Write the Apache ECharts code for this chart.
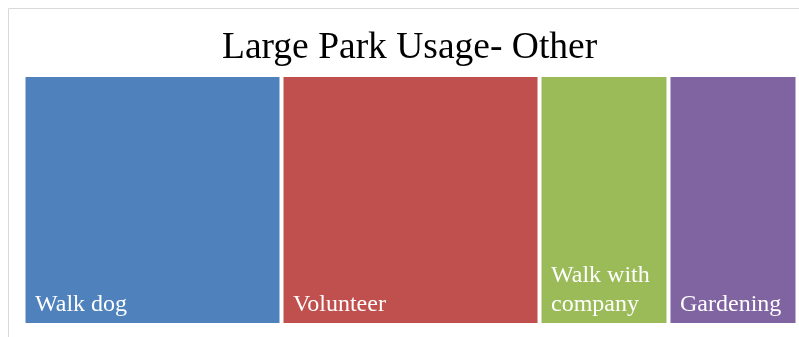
<!DOCTYPE html>
<html><head><meta charset="utf-8">
<script src="https://cdn.jsdelivr.net/npm/echarts@6/dist/echarts.min.js"></script>
<style>html,body{margin:0;padding:0;background:#fff}#c{width:799px;height:337px}</style>
</head><body><div id="c"></div>
<script>
const titleText = 'Large Park Usage- Other';
const categories = ['Walk dog', 'Volunteer', 'Walk with company', 'Gardening'];
const values = [2, 2, 1, 1];
const colors = ['#4F81BD', '#C0504D', '#9BBB59', '#8064A2'];
const labelTexts = ['Walk dog', 'Volunteer', 'Walk with\ncompany', 'Gardening'];

const chart = echarts.init(document.getElementById('c'));
chart.setOption({
  animation: false,
  title: {
    text: titleText, left: 222, top: 29, padding: 0,
    textStyle: {fontFamily: 'Liberation Serif', fontSize: 37.5, fontWeight: 'normal', color: '#000'}
  },
  graphic: [{
    type: 'rect', shape: {x: 8.5, y: 8.5, width: 800, height: 340},
    style: {fill: 'none', stroke: '#d9d9d9', lineWidth: 1}, silent: true
  }],
  series: [{
    type: 'treemap',
    left: 25.5, top: 77, width: 770, height: 246,
    roam: false, nodeClick: false, sort: false, squareRatio: 0.5,
    breadcrumb: {show: false},
    levels: [{itemStyle: {borderWidth: 0, gapWidth: 4}}],
    label: {
      show: true, position: 'insideBottomLeft', distance: 0, padding: [0, 0, 3.5, 9.5],
      fontFamily: 'Liberation Serif', fontSize: 24, lineHeight: 29.5, color: '#fff',
      overflow: 'none',
      formatter: p => labelTexts[categories.indexOf(p.name)]
    },
    data: categories.map((n, i) => ({name: n, value: values[i], itemStyle: {color: colors[i]}}))
  }]
});
</script></body></html>
